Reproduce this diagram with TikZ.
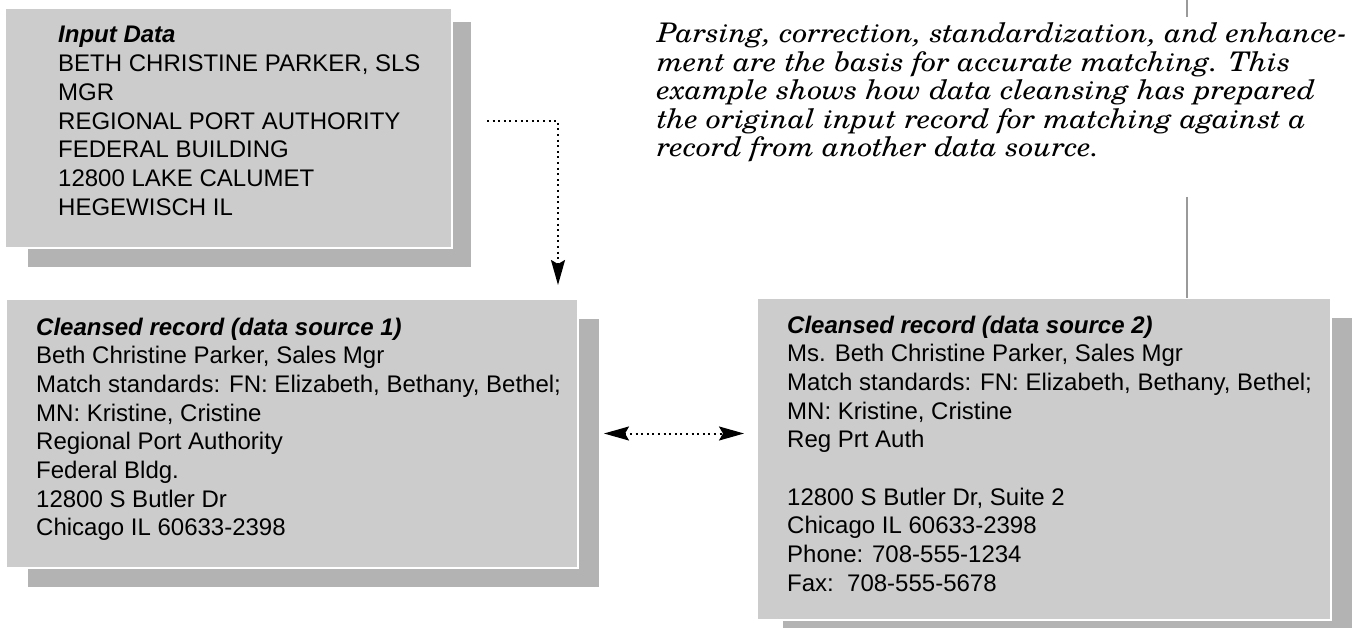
\documentclass[tikz,border=0pt]{standalone}
\usepackage{fontspec}
\setmainfont{Liberation Sans}
\newfontfamily\schola{texgyreschola-italic.otf}[FakeStretch=1.1]
\usetikzlibrary{arrows.meta,calc}
\definecolor{boxfill}{HTML}{CCCCCC}
\definecolor{boxshade}{HTML}{B3B3B3}
\definecolor{rulegray}{HTML}{9A9A9A}
\pgfdeclarelayer{bg}
\pgfsetlayers{bg,main}
\begin{document}
\begin{tikzpicture}[x=1pt,y=-1pt,
  >={Stealth[length=25pt,width=14pt,inset=4pt]},
  front/.style={fill=boxfill, draw=white, line width=1.5pt, anchor=north west, inner sep=0pt, outer sep=0pt},
  shade/.style={fill=boxshade},
  boxtext/.style={anchor=base west, inner sep=0pt, font=\fontsize{24}{28.7}\selectfont},
  paratext/.style={anchor=base west, inner sep=0pt, font=\schola\fontsize{27}{28.5}\selectfont},
  dotline/.style={line width=2pt, dash pattern=on 2pt off 3.6pt},
  vrule/.style={draw=rulegray, line width=1.5pt}
]
\useasboundingbox (0,0) rectangle (1356,628);

% boxes
\node[front, minimum width=447pt, minimum height=240pt] (inbox) at (5,8) {};
\node[front, minimum width=572pt, minimum height=269pt] (clA) at (6,299) {};
\node[front, minimum width=574pt, minimum height=322pt] (clB) at (757,298) {};

\begin{pgfonlayer}{bg}
  \fill[white] (0,0) rectangle (1356,628);
  \fill[shade] ($(inbox.north west)+(23,14)$) rectangle ($(inbox.south east)+(19,19)$);
  \fill[shade] ($(clA.north west)+(22,20)$) rectangle ($(clA.south east)+(21,19)$);
  \fill[shade] ($(clB.north west)+(26,20)$) rectangle ($(clB.south east)+(21,19)$);
\end{pgfonlayer}

% texts
\node[boxtext] (tin) at (58,43) {\begin{tabular}[t]{@{}l@{}}
\textbf{\textit{Input Data}}\\
BETH CHRISTINE PARKER, SLS\\
MGR\\
REGIONAL PORT AUTHORITY\\
FEDERAL BUILDING\\
12800 LAKE CALUMET\\
HEGEWISCH IL
\end{tabular}};

\node[boxtext] (tA) at (36,335) {\begin{tabular}[t]{@{}l@{}}
\textbf{\textit{Cleansed record (data source 1)}}\\
Beth Christine Parker, Sales Mgr\\
Match standards: FN: Elizabeth, Bethany, Bethel;\\
MN: Kristine, Cristine\\
Regional Port Authority\\
Federal Bldg.\\
12800 S Butler Dr\\
Chicago IL 60633-2398
\end{tabular}};

\node[boxtext] (tB) at (787,333) {\begin{tabular}[t]{@{}l@{}}
\textbf{\textit{Cleansed record (data source 2)}}\\
Ms. Beth Christine Parker, Sales Mgr\\
Match standards: FN: Elizabeth, Bethany, Bethel;\\
MN: Kristine, Cristine\\
Reg Prt Auth\\
\\
12800 S Butler Dr, Suite 2\\
Chicago IL 60633-2398\\
Phone: 708-555-1234\\
Fax:\ \ 708-555-5678
\end{tabular}};

\node[paratext] (para) at (657,43) {\begin{tabular}[t]{@{}l@{}}
Parsing, correction, standardization, and enhance-\\
ment are the basis for accurate matching. This\\
example shows how data cleansing has prepared\\
the original input record for matching against a\\
record from another data source.
\end{tabular}};

% vertical rule
\coordinate (r0) at (1187,0);
\coordinate (r1) at (1187,17);
\coordinate (r2) at (1187,197);
\draw[vrule] (r0) -- (r1);
\draw[vrule] (r2) -- (r2 |- clB.north);

% connectors
\coordinate (a1s) at ($(inbox.east)+(35,-7)$);
\coordinate (a1e) at ($(clA.north west)+(552,-14)$);
\draw[dotline, ->] (a1s) -| (a1e);

\coordinate (a2s) at ($(clA.east)+(26,0)$);
\coordinate (a2e) at ($(clB.west)+(-13,0)$);
\draw[dotline, <->] (a2s) -- (a2s -| a2e);
\end{tikzpicture}
\end{document}
